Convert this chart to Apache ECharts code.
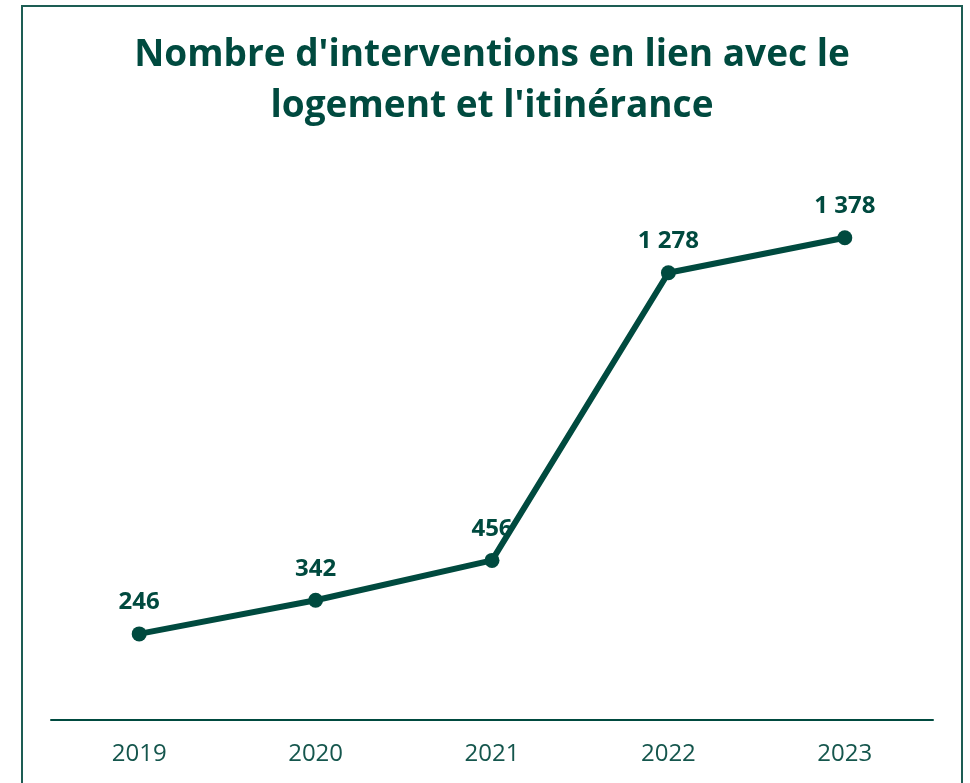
<!DOCTYPE html>
<html>
<head>
<meta charset="utf-8">
<script src="https://cdn.jsdelivr.net/npm/echarts@6/dist/echarts.min.js"></script>
<style>
  html, body { margin: 0; padding: 0; background: #fff; }
  #chart { width: 970px; height: 783px; }
</style>
</head>
<body>
<div id="chart"></div>
<script>
// données
const years = ['2019', '2020', '2021', '2022', '2023'];
const interventions = [246, 342, 456, 1278, 1378];

const green = '#004a3f';

const myChart = echarts.init(document.getElementById('chart'));

// format français : espace pour les milliers
function fmt(v) {
  return String(v).replace(/\B(?=(\d{3})+(?!\d))/g, ' ');
}

const option = {
  backgroundColor: '#fff',
  textStyle: { fontFamily: '"Open Sans", sans-serif' },
  title: {
    text: "Nombre d'interventions en lien avec le\nlogement et l'itinérance",
    left: 487,
    top: 25,
    textAlign: 'center',
    textStyle: {
      fontFamily: '"Open Sans", sans-serif',
      fontSize: 37,
      fontWeight: 'bold',
      color: green,
      lineHeight: 51,
    },
  },
  grid: {
    left: 51,
    right: 37,
    top: 160,
    bottom: 63,
  },
  xAxis: {
    type: 'category',
    data: years,
    boundaryGap: true,
    axisLine: { lineStyle: { color: green, width: 2 } },
    axisTick: { show: false },
    axisLabel: {
      color: '#15564d',
      fontSize: 24,
      margin: 22,
    },
  },
  yAxis: {
    type: 'value',
    min: 0,
    max: 1600,
    show: false,
  },
  series: [
    {
      type: 'line',
      data: interventions,
      symbol: 'circle',
      symbolSize: 15,
      lineStyle: { color: green, width: 6 },
      itemStyle: { color: green },
      label: {
        show: true,
        position: 'top',
        distance: 12,
        formatter: (p) => fmt(p.value),
        color: green,
        fontSize: 24,
        fontWeight: 'bold',
      },
    },
  ],
  graphic: [
    {
      type: 'rect',
      shape: { x: 22, y: 6, width: 940, height: 800 },
      style: { fill: 'none', stroke: '#1d5d54', lineWidth: 2 },
      silent: true,
    },
  ],
};

myChart.setOption(option);
</script>
</body>
</html>
